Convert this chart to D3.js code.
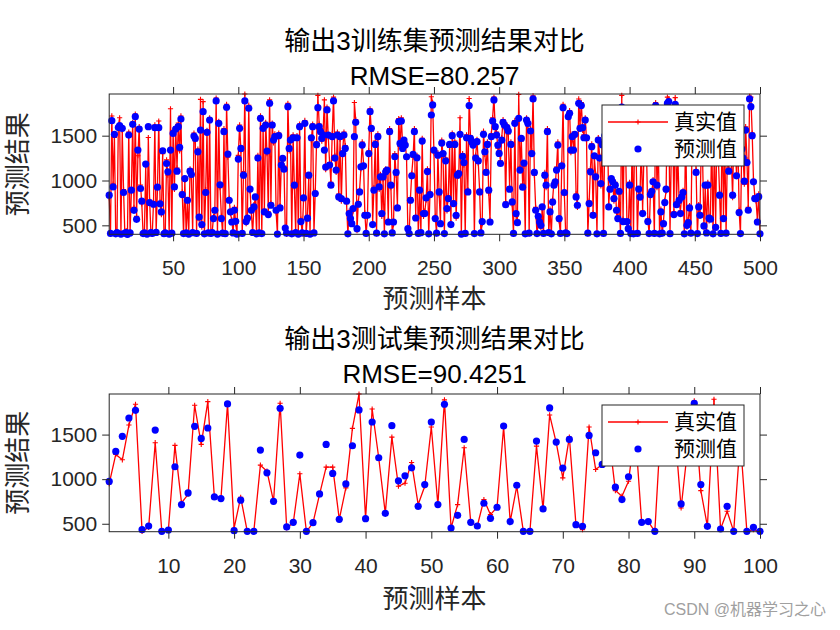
<!DOCTYPE html>
<html><head><meta charset="utf-8">
<script src="https://cdn.jsdelivr.net/npm/d3@7"></script>
<style>body{margin:0;background:#fff} svg{display:block}</style>
</head><body>
<script>
// ---------- DATA ----------
const trainTrue = [
810,405,1720,960,1480,400,430,1610,1700,400,
1560,900,405,440,400,1540,420,870,1650,700,
1740,600,1276,1600,950,740,400,420,1160,400,
1480,780,410,400,760,1620,430,900,1664,760,
620,1300,400,425,1230,1060,400,1800,405,1560,
900,1600,1140,1640,1330,1720,870,400,1000,410,
760,400,1130,1040,420,1530,1440,405,1350,560,
1905,480,1880,400,900,1560,410,1700,400,430,
600,640,1920,400,1660,920,600,405,1580,400,
1850,1260,800,630,560,410,700,520,400,1280,
1620,1330,400,1100,1965,520,600,1840,880,640,
410,730,790,400,1280,420,1720,400,1610,680,
1650,1300,650,1900,750,1640,1420,1520,640,400,
1530,720,1200,1220,1160,450,400,1860,1330,1480,
400,1510,920,410,1500,400,1630,570,405,780,
1670,400,610,1030,400,1450,1630,420,880,1430,
1950,1630,1580,1440,1540,1900,1120,1820,1480,1200,
980,1520,1930,1280,1090,1540,850,1460,770,1330,
1540,1390,740,400,660,550,540,660,1870,1680,
440,760,900,1130,1430,1190,640,400,590,1330,
1800,1550,530,920,1440,405,1520,900,1070,600,
1010,400,1130,1090,560,1580,920,410,510,1300,
1060,720,1690,1380,1700,1390,1420,1430,1240,440,
400,810,1080,1260,1580,610,1280,400,860,420,
1470,600,660,780,1130,400,870,1935,1870,1310,
600,405,1310,840,540,1450,1270,400,1250,660,
830,1370,530,1530,770,1440,580,1090,1050,1700,
400,1300,1170,400,1510,900,1915,1500,1400,1430,
400,1280,1460,1190,900,410,520,1550,1290,1120,
1430,860,560,1520,1700,1930,1570,1540,1360,1330,
1220,1480,1680,1590,760,1620,1520,930,1430,730,
400,1670,600,560,1960,1150,1440,960,1160,400,
1700,1610,405,1580,1330,1945,1060,700,400,570,
560,470,680,400,1090,920,1580,410,680,400,
790,980,950,1150,1430,550,400,1190,1850,840,
410,400,1740,1780,1310,1520,1370,1490,850,700,
1910,1610,1870,1560,1510,1700,1450,405,770,1130,
1410,640,1250,1070,400,1480,1280,940,1430,400,
1530,1330,1680,730,930,990,1010,770,980,640,
600,850,400,1950,570,1630,1320,520,440,980,
400,1530,400,1730,1330,400,880,840,1420,660,
1280,1630,1320,570,400,870,850,1010,400,1870,
920,1430,400,680,405,540,780,880,1930,1910,
400,1330,1730,650,1925,760,1280,750,660,840,
890,400,1630,480,560,720,405,1530,1270,1680,
1120,400,730,640,1430,1230,470,920,410,980,
550,600,1530,400,1380,500,1630,1280,860,400,
1730,600,1430,405,1330,1140,1530,1280,810,1580,
1330,1080,1480,670,400,1380,1280,960,1600,1230,
700,1940,1930,1530,1010,830,770,560,850,400
];
const trainPred = [
836,410,1668,929,1515,405,418,1590,1612,402,
1582,866,412,420,400,1507,415,892,1627,667,
1712,567,1339,1574,911,769,408,415,1183,403,
1600,754,418,410,735,1589,421,926,1589,740,
650,1332,406,415,1190,1097,402,1340,412,1525,
929,1574,1104,1600,1369,1686,843,408,1022,415,
780,402,1104,1067,418,1496,1470,410,1320,593,
1563,508,1768,405,866,1537,416,1675,409,420,
575,668,1888,403,1638,952,575,412,1545,407,
1817,1295,780,650,537,415,668,545,402,1239,
1582,1358,410,1060,1888,542,580,1806,904,668,
420,705,817,405,1250,415,1694,408,1582,650,
1619,1328,620,1862,724,1619,1451,1489,668,402,
1500,694,1172,1246,1127,470,412,1824,1358,1451,
405,1477,948,418,1477,403,1600,542,415,806,
1638,410,580,1060,402,1477,1600,415,855,1400,
1813,1600,1545,1470,1507,1339,1150,1787,1507,1172,
948,1489,1888,1250,1116,1507,817,1489,798,1300,
1507,1358,769,405,631,575,519,687,1489,1649,
463,735,873,1153,1395,1164,612,410,612,1300,
1768,1582,508,892,1403,412,1489,929,1041,631,
1041,405,1097,1116,537,1545,948,415,537,1265,
1090,694,1657,1414,1664,1358,1451,1395,1265,463,
408,780,1052,1291,1545,582,1254,410,892,418,
1440,631,631,806,1100,405,843,1731,1843,1339,
575,412,1283,873,519,1418,1300,408,1220,687,
799,1403,508,1500,743,1403,612,1060,1078,1515,
402,1269,1200,410,1477,873,1836,1470,1433,1395,
408,1250,1433,1220,873,415,542,1515,1321,1090,
1403,892,537,1489,1664,1899,1600,1507,1395,1302,
1190,1450,1649,1619,731,1589,1552,903,1403,761,
410,1638,631,530,1694,1116,1470,926,1194,405,
1675,1638,412,1552,1300,1910,1090,668,408,600,
537,500,705,410,1060,948,1545,420,650,405,
760,948,985,1116,1395,575,410,1164,1813,866,
415,408,1712,1750,1339,1489,1339,1515,817,724,
1862,1582,1836,1589,1477,1675,1477,412,743,1097,
1377,612,1276,1041,405,1451,1250,966,1400,410,
1500,1300,1650,705,903,1022,985,799,948,668,
575,880,410,1820,542,1600,1350,542,463,948,
408,1500,405,1700,1300,410,904,815,1450,631,
1250,1600,1350,542,408,843,880,985,410,1836,
948,1400,405,650,412,519,754,903,1860,1880,
407,1300,1700,620,1850,731,1250,780,631,817,
866,405,1600,500,530,694,412,1500,1300,1650,
1090,408,705,612,1400,1200,493,948,415,948,
580,569,1500,405,1350,478,1600,1250,836,410,
1700,575,1400,412,1300,1104,1500,1250,836,1550,
1300,1052,1450,642,408,1350,1250,993,1563,1200,
668,1910,1824,1500,985,799,799,537,820,405
];
const testTrue = [
950,1277,1217,1607,1840,415,460,1409,415,430,
1379,735,830,1829,1390,1870,800,785,1844,450,
797,415,415,1157,1090,752,1851,455,510,1060,
411,510,830,1135,1135,550,902,1570,1955,557,
1787,1240,617,1472,921,955,1187,715,921,1585,
715,1889,452,715,1352,516,475,771,602,685,
1585,524,921,415,415,1371,666,1720,1409,1015,
1472,490,434,1585,1109,1165,1500,872,809,977,
1560,516,524,415,1700,1450,1600,677,1350,1877,
872,471,1896,441,640,415,1450,415,434,415
];
const testPred = [
975,1311,1480,1686,1772,434,475,1551,415,430,
1139,715,846,1592,1457,1574,801,782,1844,422,
764,415,415,1326,1071,752,1795,464,516,1270,
415,512,835,1390,1064,550,947,1375,1776,557,
1641,1240,617,1600,981,1037,1127,696,940,1641,
715,1840,452,595,1446,516,475,730,561,685,
1596,524,932,415,415,1427,666,1799,1416,1124,
1446,490,471,1491,1296,1165,1450,910,771,1026,
1500,516,524,415,1680,1400,1550,722,1300,1851,
940,471,1700,441,696,415,1400,415,460,415
];
const trainXTicks = [50,100,150,200,250,300,350,400,450,500];
const testXTicks = [10,20,30,40,50,60,70,80,90,100];
const yTicks = [500,1000,1500];
const legendLabels = ["真实值","预测值"];

// ---------- DRAW ----------
const W = 840, H = 630;
const FONT = '"Liberation Sans", Arial, "Noto Sans CJK SC", sans-serif';
const AX = '#262626';
const svg = d3.select('body').append('svg').attr('width', W).attr('height', H);
svg.append('rect').attr('width', W).attr('height', H).attr('fill', '#fff');

function styleAxis(sel, fs) {
  sel.select('.domain').remove();
  sel.selectAll('.tick line').attr('stroke', AX).attr('stroke-width', 1);
  sel.selectAll('.tick text').attr('fill', AX).style('font-family', FONT).style('font-size', fs + 'px');
}

function panel(cfg) {
  const { tv, pv, xticks, top, bottom, t1, t2, t1y, t2y, xly, legTop } = cfg;
  const n = tv.length;
  const L = 109.2, R = 760;
  const x = d3.scaleLinear().domain([1, n]).range([L, R]);
  const y = d3.scaleLinear().domain(d3.extent(tv.concat(pv))).range([bottom, top]);
  const g = svg.append('g');

  // data
  const line = d3.line().x((d, i) => x(i + 1)).y(d => y(d));
  g.append('path').datum(tv).attr('d', line).attr('fill', 'none')
    .attr('stroke', '#ff0000').attr('stroke-width', 1.3).attr('stroke-linejoin', 'round');
  g.append('g').selectAll('path').data(tv).join('path')
    .attr('transform', (d, i) => `translate(${x(i + 1)},${y(d)})`)
    .attr('d', 'M-2.6,0H2.6M0,-2.6V2.6').attr('stroke', '#ff0000').attr('stroke-width', 1.1);
  g.append('g').selectAll('circle').data(pv).join('circle')
    .attr('cx', (d, i) => x(i + 1)).attr('cy', d => y(d)).attr('r', 3.6).attr('fill', '#0000ff');

  // axes
  const fs = 21;
  g.append('g').attr('transform', `translate(0,${bottom})`)
    .call(d3.axisBottom(x).tickValues(xticks).tickSize(7).tickPadding(19).tickFormat(d3.format('d')))
    .call(s => styleAxis(s, fs));
  g.append('g').attr('transform', `translate(0,${top})`)
    .call(d3.axisTop(x).tickValues(xticks).tickSize(7).tickFormat(''))
    .call(s => styleAxis(s, fs));
  g.append('g').attr('transform', `translate(${L},0)`)
    .call(d3.axisLeft(y).tickValues(yTicks).tickSize(7).tickPadding(5).tickFormat(d3.format('d')))
    .call(s => styleAxis(s, fs));
  g.append('g').attr('transform', `translate(${R},0)`)
    .call(d3.axisRight(y).tickValues(yTicks).tickSize(7).tickFormat(''))
    .call(s => styleAxis(s, fs));
  g.append('rect').attr('x', L).attr('y', top).attr('width', R - L).attr('height', bottom - top)
    .attr('fill', 'none').attr('stroke', AX).attr('stroke-width', 1);

  const cx = (L + R) / 2;
  const TF = '26px';
  g.append('text').attr('x', cx).attr('y', t1y).attr('text-anchor', 'middle')
    .style('font-family', FONT).style('font-size', TF).attr('fill', '#000').text(t1);
  g.append('text').attr('x', cx).attr('y', t2y).attr('text-anchor', 'middle')
    .style('font-family', FONT).style('font-size', TF).attr('fill', '#000').text(t2);
  g.append('text').attr('x', cx).attr('y', xly).attr('text-anchor', 'middle')
    .style('font-family', FONT).style('font-size', TF).attr('fill', AX).text('预测样本');
  g.append('text').attr('transform', `translate(27,${(top + bottom) / 2}) rotate(-90)`)
    .attr('text-anchor', 'middle')
    .style('font-family', FONT).style('font-size', TF).attr('fill', AX).text('预测结果');

  // legend
  const lx = 602, lw = 142, lh = 61;
  const lg = g.append('g');
  lg.append('rect').attr('x', lx).attr('y', legTop).attr('width', lw).attr('height', lh)
    .attr('fill', '#fff').attr('stroke', AX).attr('stroke-width', 1);
  const r1 = legTop + 17, r2 = legTop + 44;
  lg.append('line').attr('x1', lx + 6).attr('x2', lx + 66).attr('y1', r1).attr('y2', r1)
    .attr('stroke', '#ff0000').attr('stroke-width', 1.3);
  lg.append('path').attr('transform', `translate(${lx + 36},${r1})`).attr('d', 'M-2.6,0H2.6M0,-2.6V2.6')
    .attr('stroke', '#ff0000').attr('stroke-width', 1.1);
  lg.append('circle').attr('cx', lx + 36).attr('cy', r2).attr('r', 3.6).attr('fill', '#0000ff');
  lg.selectAll('text.lt').data(legendLabels).join('text').attr('class', 'lt')
    .attr('x', lx + 72).attr('y', (d, i) => (i === 0 ? r1 : r2) + 7)
    .style('font-family', FONT).style('font-size', '21px').attr('fill', '#000').text(d => d);
}

panel({ tv: trainTrue, pv: trainPred, xticks: trainXTicks, top: 94, bottom: 234.3,
  t1: '输出3训练集预测结果对比', t2: 'RMSE=80.257', t1y: 50, t2y: 85, xly: 308, legTop: 105 });
panel({ tv: testTrue, pv: testPred, xticks: testXTicks, top: 394, bottom: 531.7,
  t1: '输出3测试集预测结果对比', t2: 'RMSE=90.4251', t1y: 348, t2y: 383, xly: 608, legTop: 405 });

svg.append('text').attr('x', 826).attr('y', 615).attr('text-anchor', 'end')
  .style('font-family', FONT).style('font-size', '16px').attr('fill', '#a0a0a0').text('CSDN @机器学习之心');
</script>
</body></html>
